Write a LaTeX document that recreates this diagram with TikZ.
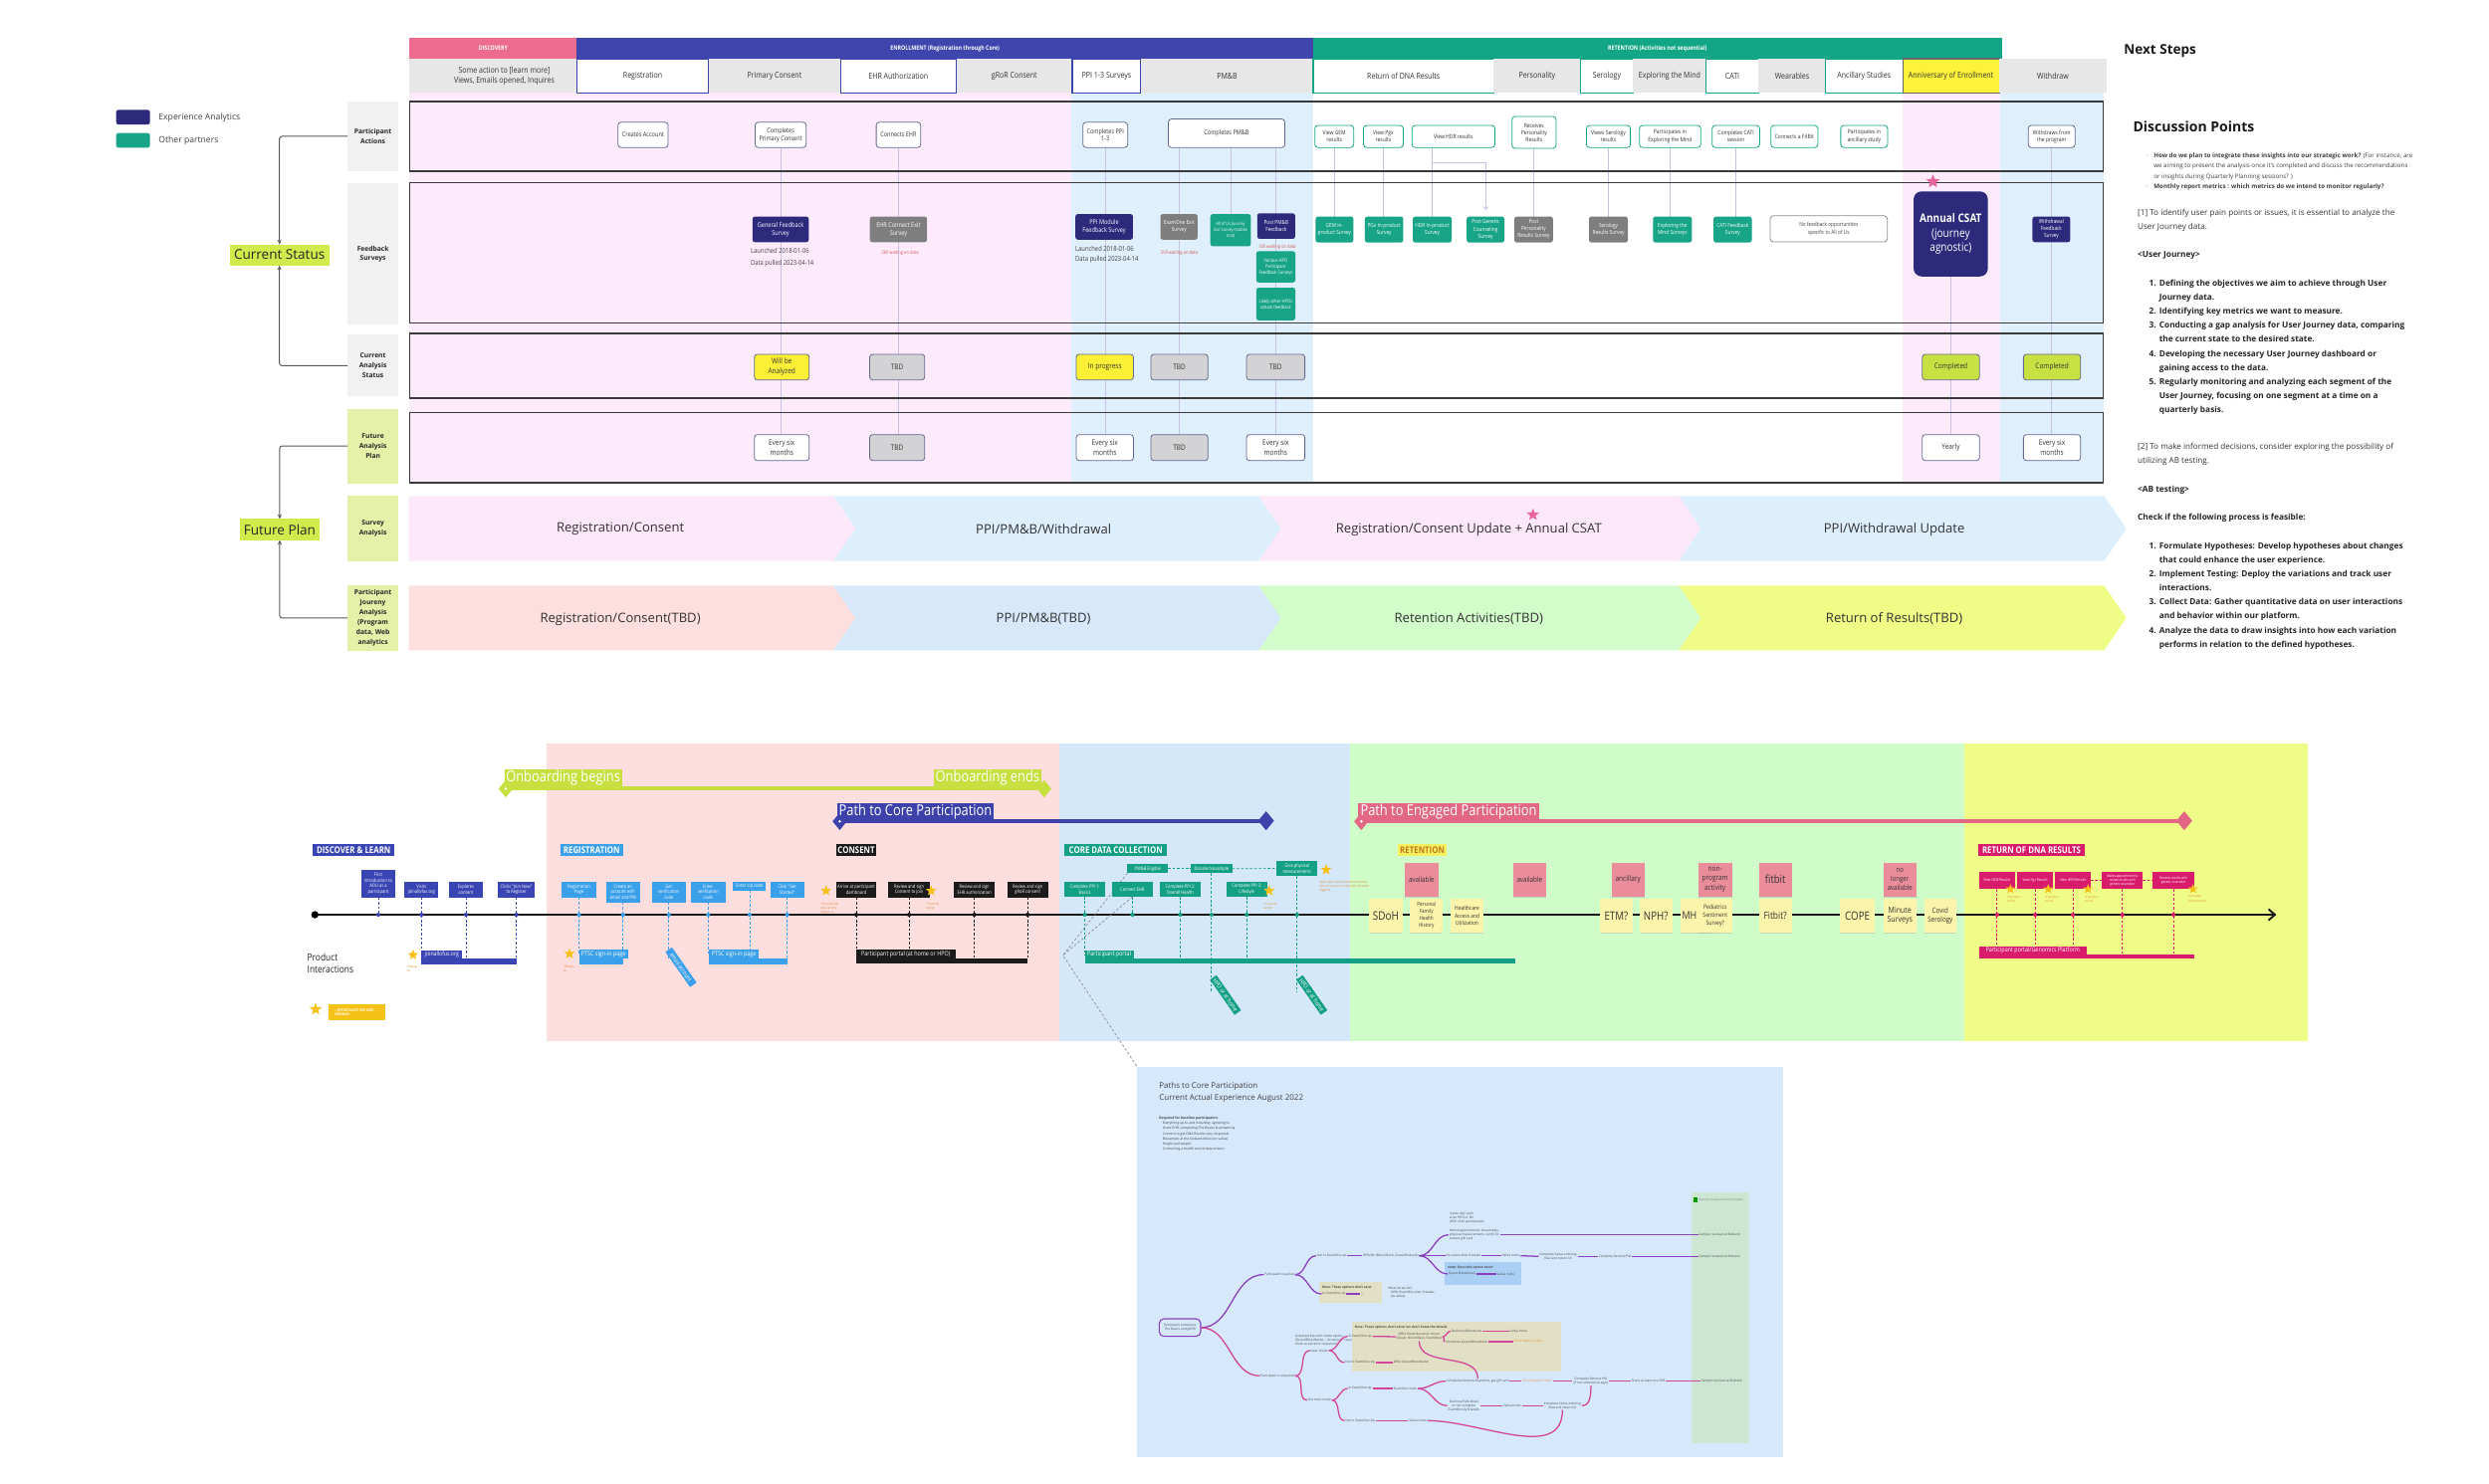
\documentclass[tikz,border=0pt]{standalone}
\usepackage{fontspec}
\setmainfont{Open Sans}
\newfontfamily\cond{Open Sans}[FakeStretch=0.85]
\usetikzlibrary{arrows.meta,shapes.geometric,calc,shadows}
\definecolor{discPink}{HTML}{EC6B8E}
\definecolor{enrBlue}{HTML}{3E46AE}
\definecolor{retGreen}{HTML}{12A586}
\definecolor{cNavy}{HTML}{2D2A7C}
\definecolor{cTeal}{HTML}{17A487}
\definecolor{grayBox}{HTML}{7E7E7E}
\definecolor{cellGray}{HTML}{E7E7E7}
\definecolor{shPink}{HTML}{FDEBFB}
\definecolor{shBlue}{HTML}{DFEFFB}
\definecolor{lblGray}{HTML}{F1F1F1}
\definecolor{lblLime}{HTML}{E5F0A8}
\definecolor{limeHL}{HTML}{D2EA4C}
\definecolor{rowDark}{HTML}{3A3A3A}
\definecolor{vline}{HTML}{C8C2E2}
\definecolor{stYellow}{HTML}{FBF036}
\definecolor{stGray}{HTML}{D3D3D5}
\definecolor{stLime}{HTML}{C8E142}
\definecolor{stEdge}{HTML}{62688F}
\definecolor{waitRed}{HTML}{D9534F}
\definecolor{annYel}{HTML}{FFF23A}
\definecolor{chPink}{HTML}{FDE8FA}
\definecolor{chBlue}{HTML}{DDEEFC}
\definecolor{jPink}{HTML}{FDDFE0}
\definecolor{jBlue}{HTML}{D6E8FA}
\definecolor{jGreen}{HTML}{D2FCCA}
\definecolor{jYellow}{HTML}{EFFD86}
\definecolor{starPink}{HTML}{E8669C}
\definecolor{pnPink}{HTML}{FDDEDF}
\definecolor{pnBlue}{HTML}{D4E8FA}
\definecolor{pnGreen}{HTML}{D0FCC9}
\definecolor{pnYellow}{HTML}{EFFD88}
\definecolor{onbLime}{HTML}{C8DF40}
\definecolor{coreNavy}{HTML}{3C42AA}
\definecolor{engPink}{HTML}{E16784}
\definecolor{discNavy}{HTML}{3A45B4}
\definecolor{regBlue}{HTML}{3BA0EA}
\definecolor{consBlack}{HTML}{1B1B1B}
\definecolor{coreGreen}{HTML}{14A085}
\definecolor{retYel}{HTML}{F6F15E}
\definecolor{retTxt}{HTML}{C2761E}
\definecolor{dnaMag}{HTML}{D81B6B}
\definecolor{stickY}{HTML}{FCF4AA}
\definecolor{stickP}{HTML}{EB8C9B}
\definecolor{cGold}{HTML}{F6C21A}
\definecolor{noteOr}{HTML}{E0913A}
\definecolor{mmBlue}{HTML}{D6E8FB}
\definecolor{mmGreen}{HTML}{CCE6D3}
\definecolor{mmTan}{HTML}{E2E0C4}
\definecolor{mmNote}{HTML}{A9CFF5}
\definecolor{mmPurple}{HTML}{8A3FC0}
\definecolor{mmMag}{HTML}{D3449A}
\pgfdeclarelayer{bg}
\pgfdeclarelayer{lines}
\pgfsetlayers{bg,lines,main}
\newcommand\fsz[2]{\fontsize{#1}{#2}\selectfont}
\newcommand\rbox[7]{%
  \pgfmathsetmacro\myW{#4-#2}%
  \pgfmathsetmacro\myH{#5-#3}%
  \node[#6,minimum width=\myW pt,minimum height=\myH pt] (#1) at ({(#2+#4)/2},{(#3+#5)/2}) {#7};}
\tikzset{
  every node/.style={inner sep=0pt,outer sep=0pt},
  tb/.style={text=white,font=\cond\bfseries\fsz{3.9}{4.5}},
  hc/.style={align=center,font=\cond\fsz{5.2}{6},text=black!80},
  hcg/.style={hc,fill=cellGray},
  hcw/.style={hc,fill=white,draw=#1,line width=0.7pt},
  rlbl/.style={align=center,font=\bfseries\fsz{4.2}{6.2},text=black!85,fill=#1},
  rowb/.style={draw=rowDark,line width=1pt},
  pab/.style={draw=#1,fill=white,rounded corners=2pt,line width=0.5pt,align=center,font=\cond\fsz{4.1}{4.9},text=black!80},
  pas/.style={pab=#1,font=\cond\fsz{3.7}{4.5}},
  fbx/.style={fill=#1,rounded corners=1.5pt,align=center,text=white,font=\cond\fsz{4.1}{5.1}},
  fbs/.style={fbx=#1,font=\cond\fsz{3.5}{4.4}},
  ntxt/.style={anchor=west,font=\cond\fsz{4.3}{5},text=black!75},
  wtxt/.style={font=\cond\fsz{3}{3.5},text=waitRed},
  stb/.style={fill=#1,draw=stEdge,line width=0.5pt,rounded corners=1.8pt,align=center,font=\cond\fsz{4.8}{6.2},text=black!80},
  vl/.style={draw=vline,line width=0.45pt},
  lconn/.style={draw=black!65,line width=0.6pt,rounded corners=1.5pt,-{Stealth[length=3pt,width=2.6pt]}},
  hl/.style={fill=limeHL,font=\fsz{8.5}{10},text=black!85},
  chtxt/.style={font=\fsz{8.2}{9},text=black!80},
  dsm/.style={anchor=base west,font=\fsz{3.9}{4.6},text=black!75},
  dmd/.style={anchor=base west,font=\fsz{5.1}{6},text=black!80},
  dbd/.style={anchor=base west,font=\bfseries\fsz{5.2}{6},text=black!85},
  secl/.style={fill=#1,text=white,font=\cond\bfseries\fsz{5.8}{6.5}},
  tbx/.style={fill=#1,text=white,align=center,font=\cond\fsz{3}{3.5}},
  trk/.style={fill=#1,text=white,font=\cond\fsz{9.5}{10}},
  plbl/.style={fill=#1,text=white,font=\cond\fsz{4}{5}},
  vd/.style={draw=#1,line width=0.45pt,dash pattern=on 1.6pt off 1.2pt},
  stk/.style={fill=#1,align=center,text=black!80,drop shadow={shadow xshift=0pt,shadow yshift=-0.8pt,opacity=0.25}},
  gstar/.style={star,star points=5,star point ratio=2.3,fill=cGold,minimum size=#1,inner sep=0pt},
  onote/.style={anchor=north west,align=left,text=noteOr,font=\cond\fsz{2.1}{2.6}},
  mm/.style={font=\fsz{2}{2.5},text=black!70,align=center,inner sep=0.6pt},
  mmP/.style={draw=mmPurple,line width=0.8pt},
  mmM/.style={draw=mmMag,line width=0.8pt},
  rot/.style={rotate=-55,fill=#1,text=white,font=\cond\fsz{3.8}{4.5},minimum width=27pt,minimum height=5pt},
  dia/.style={diamond,fill=#1,minimum width=9pt,minimum height=11pt,inner sep=0pt},
}
\begin{document}
\begin{tikzpicture}[x=1pt,y=-1pt]
\useasboundingbox (0,0) rectangle (1568,935);
\begin{pgfonlayer}{bg}
\fill[white] (0,0) rectangle (1568,935);
\fill[shPink] (258,58.5) rectangle (675,304.5);
\fill[shBlue] (675,58.5) rectangle (827.3,304.5);
\fill[shPink] (1198.6,58.5) rectangle (1260,304.5);
\fill[shBlue] (1260,58.5) rectangle (1325,304.5);
\fill[pnPink] (344.4,468.3) rectangle (667.2,656);
\fill[pnBlue] (667.2,468.3) rectangle (850.4,656);
\fill[pnGreen] (850.4,468.3) rectangle (1237.2,656);
\fill[pnYellow] (1237.2,468.3) rectangle (1453.6,656);
\end{pgfonlayer}

% ---------------- header ----------------
\rbox{hDisc}{258}{24}{363.4}{37}{tb,fill=discPink}{DISCOVERY}
\rbox{hEnr}{363.4}{24}{827.3}{37}{tb,fill=enrBlue}{ENROLLMENT (Registration through Core)}
\rbox{hRet}{827.3}{24}{1261}{37}{tb,fill=retGreen}{RETENTION (Activities not sequential)}
\rbox{c0}{258}{37}{363.4}{58.5}{hcg}{\hspace*{14pt}Some action to [learn more]\\\hspace*{14pt}Views, Emails opened, Inquires}
\rbox{c1}{363.4}{37}{446.4}{58.5}{hcw=enrBlue}{Registration}
\rbox{c2}{446.4}{37}{529.4}{58.5}{hcg}{Primary Consent}
\rbox{c3}{529.4}{37}{602.5}{58.5}{hcw=enrBlue}{EHR Authorization}
\rbox{c4}{602.5}{37}{675.5}{58.5}{hcg}{gRoR Consent}
\rbox{c5}{675.5}{37}{718.7}{58.5}{hcw=enrBlue}{PPI 1-3 Surveys}
\rbox{c6}{718.7}{37}{827.3}{58.5}{hcg}{PM\&B}
\rbox{c7}{827.3}{37}{941}{58.5}{hcw=retGreen}{Return of DNA Results}
\rbox{c8}{941}{37}{995.7}{58.5}{hcg}{Personality}
\rbox{c9}{995.7}{37}{1028.9}{58.5}{hcw=retGreen}{Serology}
\rbox{c10}{1028.9}{37}{1074.7}{58.5}{hcg}{Exploring the Mind}
\rbox{c11}{1074.7}{37}{1107.9}{58.5}{hcw=retGreen}{CATI}
\rbox{c12}{1107.9}{37}{1150}{58.5}{hcg}{Wearables}
\rbox{c13}{1150}{37}{1198.6}{58.5}{hcw=retGreen}{Ancillary Studies}
\rbox{c14}{1198.6}{37}{1259.5}{58.5}{hcw=black!60,fill=annYel}{Anniversary of Enrollment}
\rbox{c15}{1259.5}{37}{1327}{58.5}{hcg}{Withdraw}

% ---------------- legend & left labels ----------------
\rbox{lgN}{73.2}{69.2}{94.5}{78.5}{fill=cNavy,rounded corners=1.5pt}{}
\node[anchor=west,font=\fsz{5.4}{6},text=black!75] (lgNt) at (100,73.9) {Experience Analytics};
\rbox{lgG}{73.2}{83.8}{94.5}{93.1}{fill=cTeal,rounded corners=1.5pt}{}
\node[anchor=west,font=\fsz{5.4}{6},text=black!75] (lgGt) at (100,88.3) {Other partners};

\rbox{lPA}{219}{63.8}{250.9}{108}{rlbl=lblGray}{Participant\\Actions}
\rbox{lFS}{219}{115.6}{250.9}{204.6}{rlbl=lblGray}{Feedback\\Surveys}
\rbox{lCA}{219}{210.9}{250.9}{249.9}{rlbl=lblGray}{Current\\Analysis\\Status}
\rbox{lFA}{219}{257.6}{250.9}{304.5}{rlbl=lblLime}{Future\\Analysis\\Plan}
\rbox{lSA}{219}{312.6}{250.9}{353.7}{rlbl=lblLime}{Survey\\Analysis}
\rbox{lPJ}{219}{368.8}{250.9}{410}{rlbl=lblLime}{Participant\\Joureny\\Analysis\\(Program\\data, Web\\analytics}

\rbox{cs}{144.7}{154}{207.4}{167.2}{hl}{Current Status}
\rbox{fp}{151.3}{327}{201.1}{340.3}{hl}{Future Plan}
\draw[lconn] (lPA.west) -| (cs.north);
\draw[lconn] (lCA.west) -| (cs.south);
\draw[lconn] (lFA.west) -| (fp.north);
\draw[lconn] (lPJ.west) -| (fp.south);

% ---------------- row frames ----------------
\draw[rowb] (258,64) rectangle (1325,107.7);
\draw[rowb] (258,115) rectangle (1325,203.5);
\draw[rowb] (258,210) rectangle (1325,251);
\draw[rowb] (258,260) rectangle (1325,304);

% ---------------- participant actions ----------------
\rbox{pa1}{389.3}{77}{420.9}{93}{pab=stEdge}{Creates Account}
\rbox{pa2}{475.7}{77}{507.9}{93}{pab=stEdge}{Completes\\Primary Consent}
\rbox{pa3}{552}{77}{580}{93}{pab=stEdge}{Connects EHR}
\rbox{pa4}{682.2}{77}{710.4}{93}{pab=stEdge}{Completes PPI\\1-3}
\rbox{pa5}{736}{75}{809.4}{93}{pab=stEdge}{Completes PM\&B}
\rbox{pa6}{828.3}{79}{852.8}{93}{pas=retGreen}{View GEM\\results}
\rbox{pa7}{859}{79}{884}{93}{pas=retGreen}{View Pgx\\results}
\rbox{pa8}{889.5}{79}{941.7}{93}{pas=retGreen}{View HDR results}
\rbox{pa9}{952.5}{73.4}{980.3}{93.5}{pas=retGreen}{Receives\\Personality\\Results}
\rbox{pa10}{999.4}{79}{1027.1}{93}{pas=retGreen}{Views Serology\\results}
\rbox{pa11}{1032.8}{79}{1071.4}{93}{pas=retGreen}{Participates in\\Exploring the Mind}
\rbox{pa12}{1078.6}{79}{1108.5}{93}{pas=retGreen}{Completes CATI\\session}
\rbox{pa13}{1115.6}{79}{1145.2}{93}{pas=retGreen}{Connects a FitBit}
\rbox{pa14}{1159.6}{79}{1189.1}{93}{pas=retGreen}{Participates in\\ancillary study}
\rbox{pa15}{1277.7}{79}{1307.2}{93}{pas=stEdge}{Withdraws from\\the program}

% ---------------- feedback surveys ----------------
\rbox{fb1}{474}{136.5}{509.5}{152.6}{fbx=cNavy}{General Feedback\\Survey}
\rbox{fb2}{548}{136.5}{584}{152.6}{fbx=grayBox}{EHR Connect Exit\\Survey}
\rbox{fb3}{677.5}{134.9}{713.7}{151}{fbx=cNavy}{PPI Module\\Feedback Survey}
\rbox{fb4}{731}{134.9}{754.5}{151}{fbs=grayBox}{ExamOne Exit\\Survey}
\rbox{fb5}{762.5}{134.9}{788}{155.2}{fbs=cTeal,font=\cond\fsz{2.8}{3.6}}{All of Us Journey\\Exit Survey (mobile\\Unit)}
\rbox{fb6}{792}{134.4}{815.9}{150.5}{fbs=cNavy}{Post PM\&B\\Feedback}
\rbox{fb7}{791.4}{158.3}{816}{178}{fbs=cTeal,font=\cond\fsz{3}{3.9}}{Various HPO\\Participant\\Feedback Surveys}
\rbox{fb8}{791.4}{181.3}{816}{201.8}{fbs=cTeal,font=\cond\fsz{3}{3.9}}{Likely other HPOs\\obtain feedback}
\rbox{fb9}{828.8}{136.5}{852.6}{152.8}{fbs=cTeal}{GEM In-\\product Survey}
\rbox{fb10}{859.8}{136.5}{884}{152.8}{fbs=cTeal}{PGx In-product\\Survey}
\rbox{fb11}{890}{136.5}{914.5}{152.8}{fbs=cTeal}{HDR In-product\\Survey}
\rbox{fb12}{924}{136.5}{947.7}{152.8}{fbs=cTeal}{Post Genetic\\Counseling\\Survey}
\rbox{fb13}{954}{136.5}{978.3}{152.8}{fbs=grayBox}{Post\\Personality\\Results Survey}
\rbox{fb14}{1001}{136.5}{1025.5}{152.8}{fbs=grayBox}{Serology\\Results Survey}
\rbox{fb15}{1041.3}{136.5}{1065.8}{152.8}{fbs=cTeal}{Exploring the\\Mind Surveys}
\rbox{fb16}{1079.5}{136.5}{1103.6}{152.8}{fbs=cTeal}{CATI Feedback\\Survey}
\rbox{fb17}{1115.1}{136}{1189}{152.4}{fill=white,draw=black!45,line width=0.5pt,rounded corners=2pt,align=center,font=\cond\fsz{3.5}{4.6},text=black!75}{No feedback opportunities\\specific to All of Us}
\rbox{fb18}{1205.5}{120.6}{1252.3}{174.2}{fill=cNavy,rounded corners=5pt,align=center,text=white,font=\cond\fsz{7.4}{9.2}}{{\bfseries Annual CSAT}\\(journey\\agnostic)}
\rbox{fb19}{1280.4}{136.5}{1304.2}{152.6}{fbs=cNavy}{Withdrawal\\Feedback\\Survey}
\node[star,star points=5,star point ratio=2.3,fill=starPink,minimum size=9pt] (pst1) at (1217.7,114.4) {};

\node[ntxt] (tn1) at (473,157.9) {Launched 2018-01-06};
\node[ntxt] (tn2) at (473,165.8) {Data pulled 2023-04-14};
\node[wtxt] (tn3) at (567,159.3) {Still waiting on data};
\node[ntxt] (tn4) at (677.5,156.8) {Launched 2018-01-06};
\node[ntxt] (tn5) at (677.5,163.3) {Data pulled 2023-04-14};
\node[wtxt] (tn6) at (743,159.3) {Still waiting on data};
\node[wtxt] (tn7) at (804.7,155.4) {Still waiting on data};

% ---------------- status rows ----------------
\rbox{s1}{475.2}{223.3}{509.8}{239.4}{stb=stYellow}{Will be\\Analyzed}
\rbox{s2}{547.9}{223.3}{582.5}{239.4}{stb=stGray}{TBD}
\rbox{s3}{678}{223.3}{714}{239.4}{stb=stYellow}{In progress}
\rbox{s4}{725}{223.3}{761}{239.4}{stb=stGray}{TBD}
\rbox{s5}{785.3}{223.3}{822}{239.4}{stb=stGray}{TBD}
\rbox{s6}{1211}{223.3}{1247}{239.4}{stb=stLime}{Completed}
\rbox{s7}{1274.7}{223.3}{1310.7}{239.4}{stb=stLime}{Completed}
\rbox{f1}{475.2}{273.9}{509.8}{290.2}{stb=white}{Every six\\months}
\rbox{f2}{547.9}{273.9}{582.5}{290.2}{stb=stGray}{TBD}
\rbox{f3}{678}{273.9}{714}{290.2}{stb=white}{Every six\\months}
\rbox{f4}{725}{273.9}{761}{290.2}{stb=stGray}{TBD}
\rbox{f5}{785.3}{273.9}{822}{290.2}{stb=white}{Every six\\months}
\rbox{f6}{1211}{273.9}{1247}{290.2}{stb=white}{Yearly}
\rbox{f7}{1274.7}{273.9}{1310.7}{290.2}{stb=white}{Every six\\months}

\coordinate (hdrY) at (0,102.5);
\begin{pgfonlayer}{lines}
\draw[vl] (pa2.south) -- (pa2.south |- f1.north);
\draw[vl] (pa3.south) -- (pa3.south |- f2.north);
\draw[vl] (pa4.south) -- (pa4.south |- f3.north);
\draw[vl] (pa5.south -| f4.north) -- (f4.north);
\draw[vl] (pa5.south -| fb5.north) -- (fb5.north);
\draw[vl] (pa5.south -| f5.north) -- (f5.north);
\draw[vl] (pa6.south) -- (pa6.south |- fb9.north);
\draw[vl] (pa7.south) -- (pa7.south |- fb10.north);
\draw[vl] (pa8.south -| fb11.north) -- (fb11.north);
\draw[vl,-{Straight Barb[length=2pt,width=3pt]}] (fb11.north |- hdrY) -| ($(fb12.north)+(0,-4)$);
\draw[vl] (pa9.south) -- (pa9.south |- fb13.north);
\draw[vl] (pa10.south) -- (pa10.south |- fb14.north);
\draw[vl] (pa11.south) -- (pa11.south |- fb15.north);
\draw[vl] (pa12.south) -- (pa12.south |- fb16.north);
\draw[vl] (fb18.south) -- (fb18.south |- f6.north);
\draw[vl] (pa15.south) -- (pa15.south |- f7.north);
\end{pgfonlayer}

% ---------------- chevrons ----------------
\fill[chPink] (257.5,312.5) -- (525,312.5) -- (539,333) -- (525,353.5) -- (257.5,353.5) -- cycle;
\fill[chBlue] (525,312.5) -- (793,312.5) -- (807,333) -- (793,353.5) -- (525,353.5) -- (539,333) -- cycle;
\fill[chPink] (793,312.5) -- (1057.6,312.5) -- (1071.6,333) -- (1057.6,353.5) -- (793,353.5) -- (807,333) -- cycle;
\fill[chBlue] (1057.6,312.5) -- (1325.5,312.5) -- (1339.5,333) -- (1325.5,353.5) -- (1057.6,353.5) -- (1071.6,333) -- cycle;
\node[chtxt] (sa1) at (390.8,333.5) {Registration/Consent};
\node[chtxt] (sa2) at (657.4,333.5) {PPI/PM\&B/Withdrawal};
\node[chtxt] (sa3) at (925.3,333.5) {Registration/Consent Update + Annual CSAT};
\node[chtxt] (sa4) at (1193.3,333.5) {PPI/Withdrawal Update};
\node[star,star points=5,star point ratio=2.3,fill=starPink,minimum size=8pt] (pst2) at (965.7,324.4) {};
\fill[jPink] (257.5,369) -- (525,369) -- (539,389.4) -- (525,409.8) -- (257.5,409.8) -- cycle;
\fill[jBlue] (525,369) -- (793,369) -- (807,389.4) -- (793,409.8) -- (525,409.8) -- (539,389.4) -- cycle;
\fill[jGreen] (793,369) -- (1057.6,369) -- (1071.6,389.4) -- (1057.6,409.8) -- (793,409.8) -- (807,389.4) -- cycle;
\fill[jYellow] (1057.6,369) -- (1325.5,369) -- (1339.5,389.4) -- (1325.5,409.8) -- (1057.6,409.8) -- (1071.6,389.4) -- cycle;
\node[chtxt] (pj1) at (390.8,390) {Registration/Consent(TBD)};
\node[chtxt] (pj2) at (657.4,390) {PPI/PM\&B(TBD)};
\node[chtxt] (pj3) at (925.3,390) {Retention Activities(TBD)};
\node[chtxt] (pj4) at (1193.3,390) {Return of Results(TBD)};

% ---------------- next steps / discussion ----------------
\node[anchor=base west,font=\bfseries\fsz{8.5}{10},text=black!90] (ns) at (1338,34.1) {Next Steps};
\node[anchor=base west,font=\bfseries\fsz{8.8}{10},text=black!90] (dp) at (1343.8,82.8) {Discussion Points};
\node[dsm] (b1d) at (1352,99.1) {·};
\node[dsm] (b1) at (1356.8,99.1) {\textbf{How do we plan to integrate these insights into our strategic work?} (For instance, are};
\node[dsm] (b2) at (1356.8,105.7) {we aiming to present the analysis once it's completed and discuss the recommendations};
\node[dsm] (b3) at (1356.8,112.4) {or insights during Quarterly Planning sessions? )};
\node[dsm] (b4d) at (1352,119.0) {·};
\node[dsm] (b4) at (1356.8,119.0) {\textbf{Monthly report metrics : which metrics do we intend to monitor regularly?}};
\node[dmd] (p1a) at (1346.7,135.8) {[1] To identify user pain points or issues, it is essential to analyze the};
\node[dmd] (p1b) at (1346.7,144.5) {User Journey data.};
\node[dbd] (uj) at (1346.7,162.2) {<User Journey>};
\node[dbd,anchor=base east] (u1n) at (1358.3,180.2) {1.};
\node[dbd] (u1a) at (1360.3,180.2) {Defining the objectives we aim to achieve through User};
\node[dbd] (u1b) at (1360.3,188.9) {Journey data.};
\node[dbd,anchor=base east] (u2n) at (1358.3,197.9) {2.};
\node[dbd] (u2a) at (1360.3,197.9) {Identifying key metrics we want to measure.};
\node[dbd,anchor=base east] (u3n) at (1358.3,206.8) {3.};
\node[dbd] (u3a) at (1360.3,206.8) {Conducting a gap analysis for User Journey data, comparing};
\node[dbd] (u3b) at (1360.3,215.5) {the current state to the desired state.};
\node[dbd,anchor=base east] (u4n) at (1358.3,224.7) {4.};
\node[dbd] (u4a) at (1360.3,224.7) {Developing the necessary User Journey dashboard or};
\node[dbd] (u4b) at (1360.3,233.4) {gaining access to the data.};
\node[dbd,anchor=base east] (u5n) at (1358.3,242.4) {5.};
\node[dbd] (u5a) at (1360.3,242.4) {Regularly monitoring and analyzing each segment of the};
\node[dbd] (u5b) at (1360.3,251.1) {User Journey, focusing on one segment at a time on a};
\node[dbd] (u5c) at (1360.3,260.1) {quarterly basis.};
\node[dmd] (p2a) at (1346.7,283.3) {[2] To make informed decisions, consider exploring the possibility of};
\node[dmd] (p2b) at (1346.7,292.2) {utilizing AB testing.};
\node[dbd] (ab) at (1346.7,310.4) {<AB testing>};
\node[dbd] (chk) at (1346.7,327.8) {Check if the following process is feasible:};
\node[dbd,anchor=base east] (a1n) at (1358.3,345.9) {1.};
\node[dbd] (a1a) at (1360.3,345.9) {Formulate Hypotheses: Develop hypotheses about changes};
\node[dbd] (a1b) at (1360.3,354.5) {that could enhance the user experience.};
\node[dbd,anchor=base east] (a2n) at (1358.3,363.5) {2.};
\node[dbd] (a2a) at (1360.3,363.5) {Implement Testing: Deploy the variations and track user};
\node[dbd] (a2b) at (1360.3,372.2) {interactions.};
\node[dbd,anchor=base east] (a3n) at (1358.3,381.2) {3.};
\node[dbd] (a3a) at (1360.3,381.2) {Collect Data: Gather quantitative data on user interactions};
\node[dbd] (a3b) at (1360.3,390.1) {and behavior within our platform.};
\node[dbd,anchor=base east] (a4n) at (1358.3,399.1) {4.};
\node[dbd] (a4a) at (1360.3,399.1) {Analyze the data to draw insights into how each variation};
\node[dbd] (a4b) at (1360.3,408.0) {performs in relation to the defined hypotheses.};

% ---------------- journey timeline ----------------
\coordinate (axL) at (198.4,576.4);
\coordinate (axR) at (1434,576.4);
\begin{pgfonlayer}{lines}
\draw[line width=1.3pt,black!90,-{Straight Barb[length=4pt,width=7pt,line width=1.2pt]}] (axL) -- (axR);
\draw[onbLime,line width=2.6pt] (318.6,496.5) -- (657.8,496.5);
\draw[coreNavy,line width=2.6pt] (529,517.2) -- (797.6,517.2);
\draw[engPink,line width=2.6pt] (857.6,517.2) -- (1376,517.2);
\end{pgfonlayer}
\fill[black] (axL) circle (2.3pt);

% tracks
\node[dia=onbLime] (obS) at (318.6,497) {};
\fill[white] (obS.center) circle (0.9pt);
\node[dia=onbLime] (obE) at (657.8,497) {};
\rbox{obL1}{317.8}{485}{391.7}{495.5}{trk=onbLime}{Onboarding begins}
\rbox{obL2}{588.2}{485}{656}{495.5}{trk=onbLime}{Onboarding ends}
\node[dia=coreNavy] (pcS) at (529,517.6) {};
\fill[white] (pcS.center) circle (0.9pt);
\node[dia=coreNavy,minimum width=10pt,minimum height=12pt] (pcE) at (797.6,517.2) {};
\rbox{pcL}{527.4}{506}{626}{516.4}{trk=coreNavy}{Path to Core Participation}
\node[dia=engPink] (peS) at (857.6,517.6) {};
\fill[white] (peS.center) circle (0.9pt);
\node[dia=engPink,minimum width=10pt,minimum height=12pt] (peE) at (1376,517.2) {};
\rbox{peL}{855.8}{506}{969.4}{516.4}{trk=engPink}{Path to Engaged Participation}

% section labels
\rbox{slD}{197.2}{532}{248.4}{539.4}{secl=discNavy}{DISCOVER \& LEARN}
\rbox{slR}{353}{532}{392.4}{539.4}{secl=regBlue}{REGISTRATION}
\rbox{slC}{526.8}{532}{552}{539.4}{secl=consBlack}{CONSENT}
\rbox{slK}{670.6}{532}{735.2}{539.4}{secl=coreGreen}{CORE DATA COLLECTION}
\rbox{slT}{880.8}{532}{911.2}{539.4}{secl=retYel,text=retTxt}{RETENTION}
\rbox{slG}{1246}{532}{1313.6}{539.4}{secl=dnaMag}{RETURN OF DNA RESULTS}

% discover
\rbox{d1}{227.6}{548.4}{249}{565.5}{tbx=discNavy}{First\\introduction to\\AOU as a\\participant}
\rbox{d2}{254.8}{555.5}{276.2}{565.5}{tbx=discNavy}{Visits\\joinallofus.org}
\rbox{d3}{282.6}{555.5}{304.4}{565.5}{tbx=discNavy}{Explores\\content}
\rbox{d4}{313.6}{555.5}{337}{565.5}{tbx=discNavy}{Clicks "Join Now"\\to Register}
% registration
\rbox{r1}{354}{555.5}{375.4}{565.5}{tbx=regBlue}{Registration\\Page}
\rbox{r2}{381.8}{555.5}{403.2}{568.6}{tbx=regBlue}{Create an\\account with\\email and PW}
\rbox{r3}{410.6}{555.5}{432}{568.6}{tbx=regBlue}{Get\\verification\\code}
\rbox{r4}{435.2}{555.5}{457}{568.6}{tbx=regBlue}{Enter\\verification\\code}
\rbox{r5}{461.8}{555.5}{482.6}{561.3}{tbx=regBlue}{Enter zip code}
\rbox{r6}{485.2}{555.5}{506.6}{565.5}{tbx=regBlue}{Click "Get\\Started"}
% consent
\rbox{k0a}{526.8}{555.5}{552}{565.5}{tbx=consBlack}{Arrive at participant\\dashboard}
\rbox{k0b}{559.4}{555.5}{586}{565.5}{tbx=consBlack}{Review and sign\\Consent to join}
\rbox{k0c}{601}{555.5}{626.6}{565.5}{tbx=consBlack}{Review and sign\\EHR authorization}
\rbox{k0d}{634.6}{555.5}{660.2}{565.5}{tbx=consBlack}{Review and sign\\gRoR consent}
% core data
\rbox{k1}{670.6}{555.7}{696.2}{565.1}{tbx=coreGreen}{Complete PPI 1:\\Basics}
\rbox{k2}{700.6}{555.7}{726.2}{565.1}{tbx=coreGreen}{Connect EHR}
\rbox{k3}{730.7}{555.7}{756.3}{565.1}{tbx=coreGreen}{Complete PPI 2:\\Overall Health}
\rbox{k4}{772.6}{555.7}{798.2}{565.1}{tbx=coreGreen}{Complete PPI 3:\\Lifestyle}
\rbox{k5}{710.2}{544.6}{735.8}{550.2}{tbx=coreGreen}{PM\&B Eligible}
\rbox{k6}{750.2}{544.6}{776.2}{550.2}{tbx=coreGreen}{Donate biosample}
\rbox{k7}{804.3}{542.5}{829.9}{552}{tbx=coreGreen}{Give physical\\measurements}
% DNA
\rbox{g1}{1246.9}{549.2}{1269.2}{560.3}{tbx=dnaMag,font=\cond\fsz{2.4}{3}}{View GEM Results}
\rbox{g2}{1270.9}{549.2}{1293.3}{560.3}{tbx=dnaMag,font=\cond\fsz{2.4}{3}}{View Pgx Results}
\rbox{g3}{1294.7}{549.2}{1317.1}{560.3}{tbx=dnaMag,font=\cond\fsz{2.4}{3}}{View HDR Results}
\rbox{g4}{1324}{549.2}{1350}{560.3}{tbx=dnaMag,font=\cond\fsz{2.2}{2.7}}{Makes appointment to\\review results with\\genetic counselor}
\rbox{g5}{1356.2}{549.2}{1382.3}{560.3}{tbx=dnaMag,font=\cond\fsz{2.2}{2.7}}{Reviews results with\\genetic counselor}

% product interaction bars
\rbox{jl}{265.6}{599}{291.2}{604.1}{plbl=discNavy,font=\cond\fsz{3.8}{4.5}}{joinallofus.org}
\rbox{jb}{265.6}{604.1}{325.2}{607.5}{fill=discNavy}{}
\rbox{pt1}{364.8}{598.5}{395.6}{604}{plbl=regBlue}{PTSC sign-in page}
\rbox{pt1b}{364.8}{604}{392.4}{608}{fill=regBlue}{}
\node[rot=regBlue] (em) at (429,609.5) {email account};
\rbox{pt2}{446.8}{598.5}{477.8}{604}{plbl=regBlue}{PTSC sign-in page}
\rbox{pt2b}{446.8}{604}{496}{607.5}{fill=regBlue}{}
\rbox{cp}{539.2}{598.5}{602}{603.8}{plbl=consBlack}{Participant portal (at home or HPO)}
\rbox{cpb}{539.2}{603.8}{647.4}{607.3}{fill=consBlack}{}
\rbox{pp}{683.4}{599}{714.1}{604.1}{plbl=coreGreen}{Participant portal}
\rbox{ppb}{683.4}{604.1}{954.4}{607.3}{fill=coreGreen}{}
\node[rot=coreGreen] (epo1) at (772,627) {HPO or at home};
\node[rot=coreGreen] (epo2) at (826.4,627) {HPO or at home};
\rbox{gp}{1246.9}{596.4}{1314.4}{601.7}{plbl=dnaMag}{Participant portal/Genomics Platform}
\rbox{gpb}{1246.9}{601.7}{1382.3}{604.2}{fill=dnaMag}{}

\coordinate (mmA) at (669.6,602);
\begin{pgfonlayer}{lines}
\draw[vd=discNavy] (d1.south) -- (d1.south |- axL);
\draw[vd=discNavy] (d2.south) -- (d2.south |- jl.center);
\draw[vd=discNavy] (d3.south) -- (d3.south |- jb.north);
\draw[vd=discNavy] (d4.south) -- (d4.south |- jb.north);
\draw[vd=regBlue] (r1.south) -- (r1.south |- pt1.center);
\draw[vd=regBlue] (r2.south) -- (r2.south |- pt1b.north);
\draw[vd=regBlue] (r3.south) -- (r3.south |- pt1b.north);
\draw[vd=regBlue] (r4.south) -- (r4.south |- pt2.center);
\draw[vd=regBlue] (r5.south) -- (r5.south |- pt2.center);
\draw[vd=regBlue] (r6.south) -- (r6.south |- pt2b.north);
\draw[vd=consBlack] (k0a.south) -- (k0a.south |- cp.center);
\draw[vd=consBlack] (k0b.south) -- (k0b.south |- cp.center);
\draw[vd=consBlack] (k0c.south) -- (k0c.south |- cpb.north);
\draw[vd=consBlack] (k0d.south) -- (k0d.south |- cpb.north);
\draw[vd=coreGreen] (k1.south) -- (k1.south |- pp.center);
\draw[vd=coreGreen] (k2.south) -- (k2.south |- axL);
\draw[vd=coreGreen] (k3.south) -- (k3.south |- ppb.north);
\draw[vd=coreGreen] (k4.south) -- (k4.south |- ppb.north);
\draw[vd=coreGreen] (k6.south) -- (k6.south |- epo1.north);
\draw[vd=coreGreen] (k7.south) -- (k7.south |- epo2.north);
\draw[vd=coreGreen] (k5.east) -- (k6.west);
\draw[vd=coreGreen] (k6.east) -- (k7.west);
\draw[vd=dnaMag] (g1.south) -- (g1.south |- gp.center);
\draw[vd=dnaMag] (g2.south) -- (g2.south |- gp.center);
\draw[vd=dnaMag] (g3.south) -- (g3.south |- gp.center);
\draw[vd=dnaMag] (g4.south) -- (g4.south |- gpb.north);
\draw[vd=dnaMag] (g5.south) -- (g5.south |- gpb.north);
\draw[vd=dnaMag] (g3.east) -- (g4.west);
\draw[vd=dnaMag] (g4.east) -- (g5.west);
\end{pgfonlayer}
\foreach \n/\c in {d1/discNavy,d2/discNavy,d3/discNavy,d4/discNavy,r1/regBlue,r2/regBlue,r3/regBlue,r4/regBlue,r5/regBlue,r6/regBlue,k0a/consBlack,k0b/consBlack,k0c/consBlack,k0d/consBlack,k1/coreGreen,k2/coreGreen,k3/coreGreen,k4/coreGreen,k6/coreGreen,k7/coreGreen,g1/dnaMag,g2/dnaMag,g3/dnaMag,g4/dnaMag,g5/dnaMag}{
  \fill[\c] (\n.south |- axL) circle (1.3pt);
}

% stars and notes
\node[gstar=7pt] (st1) at (260.2,601.7) {};
\node[onote] (on1) at (256.5,608.5) {*Always\\on};
\node[gstar=7pt] (st2) at (358.8,601) {};
\node[onote] (on2) at (355,608.5) {*Always\\on};
\node[gstar=7pt] (st3) at (520.4,561.3) {};
\node[onote] (on3) at (517.2,568.6) {*Dashboards\\pop-up only\\always on};
\node[gstar=7pt] (st4) at (586.6,561.3) {};
\node[onote] (on4) at (583.4,568.6) {*In-portal\\survey};
\node[gstar=7pt] (st5) at (799.5,561.3) {};
\node[onote] (on5) at (796,568.6) {*In-portal\\survey};
\node[gstar=7pt] (st6) at (835.4,548.1) {};
\node[onote] (on6) at (831.2,555) {*post-appt survey (communications)\\also an in-portal survey (but unknown\\triggers)};
\node[gstar=6.5pt] (st7) at (1266.5,560.3) {};
\node[onote] (on7) at (1264.4,564.3) {In-product\\survey};
\node[gstar=6.5pt] (st8) at (1290.3,560.3) {};
\node[onote] (on8) at (1288.2,564.3) {In-product\\survey};
\node[gstar=6.5pt] (st9) at (1315.4,560.3) {};
\node[onote] (on9) at (1313.3,564.3) {In-product\\survey};
\node[gstar=6.5pt] (st10) at (1381.5,560.3) {};
\node[onote] (on10) at (1378.6,564.3) {post-appt\\survey (email)};

\node[anchor=west,align=left,font=\cond\fsz{6.2}{7.8},text=black!85] (pi) at (193.6,607.1) {Product\\Interactions};
\node[gstar=8pt] (lgS) at (198.8,636) {};
\rbox{lgY}{206.8}{633}{242.6}{642.9}{fill=cGold,text=white,align=left,font=\cond\bfseries\fsz{2.2}{2.8}}{= OPPORTUNITY FOR USER\\FEEDBACK\hspace*{18pt}}

% stickies
\rbox{p1}{885}{543.5}{906}{564.9}{stk=stickP,font=\cond\fsz{4.6}{5.6}}{available}
\rbox{p2}{953.1}{543.5}{974}{564.9}{stk=stickP,font=\cond\fsz{4.6}{5.6}}{available}
\rbox{p3}{1015.2}{543.5}{1036}{564.9}{stk=stickP,font=\cond\fsz{4.8}{5.6}}{ancillary}
\rbox{p4}{1069.9}{543.5}{1091}{564.9}{stk=stickP,font=\cond\fsz{4.8}{5.8}}{non-\\program\\activity}
\rbox{p5}{1108}{543.5}{1128.8}{564.9}{stk=stickP,font=\cond\fsz{7}{8}}{fitbit}
\rbox{p6}{1186.4}{543.5}{1207.3}{564.9}{stk=stickP,font=\cond\fsz{4.5}{5.5}}{no\\longer\\available}
\rbox{y1}{862.6}{566.5}{883.4}{587.5}{stk=stickY,font=\cond\fsz{7.4}{8}}{SDoH}
\rbox{y2}{888.2}{566.5}{909}{587.5}{stk=stickY,font=\cond\fsz{3.4}{4.4}}{Personal\\Family\\Health\\History}
\rbox{y3}{913.8}{566.5}{934.6}{587.5}{stk=stickY,font=\cond\fsz{3.6}{4.8}}{Healthcare\\Access and\\Utilization}
\rbox{y4}{1007.8}{566.5}{1028.6}{587.5}{stk=stickY,font=\cond\fsz{7.2}{8}}{ETM?}
\rbox{y5}{1032.8}{566.5}{1053.6}{587.5}{stk=stickY,font=\cond\fsz{7.2}{8}}{NPH?}
\rbox{y6}{1058.4}{566.5}{1079.2}{587.5}{stk=stickY,font=\cond\fsz{6.6}{8}}{MH\hspace*{9pt}}
\rbox{y7}{1070}{566.5}{1091}{587.5}{stk=stickY,font=\cond\fsz{3.8}{4.9}}{Pediatrics\\Sentiment\\Survey?}
\rbox{y8}{1108}{566.5}{1128.8}{587.5}{stk=stickY,font=\cond\fsz{6.2}{8}}{Fitbit?}
\rbox{y9}{1159}{566.5}{1181.2}{587.5}{stk=stickY,font=\cond\fsz{7.2}{8}}{COPE}
\rbox{y10}{1186.4}{566.5}{1207.3}{587.5}{stk=stickY,font=\cond\fsz{5.2}{6.2}}{Minute\\Surveys}
\rbox{y11}{1212.2}{566.5}{1232.4}{587.5}{stk=stickY,font=\cond\fsz{4.6}{5.8}}{Covid\\Serology}

% ---------------- paths to core participation (mind map) ----------------
\rbox{mmBox}{716.3}{672.1}{1123.6}{918.4}{fill=mmBlue}{}
\begin{pgfonlayer}{lines}
\draw[black!45,line width=0.45pt,dash pattern=on 1.6pt off 1.3pt] (k5.south west) -- (mmA) -- (mmBox.north west);
\draw[black!45,line width=0.45pt,dash pattern=on 1.6pt off 1.3pt] (k2.south) -- (mmA);
\end{pgfonlayer}
\node[anchor=west,font=\fsz{5}{6},text=black!75] (mmT1) at (730.3,684.7) {Paths to Core Participation};
\node[anchor=west,font=\fsz{5}{6},text=black!75] (mmT2) at (730.3,692) {Current Actual Experience August 2022};
\node[anchor=north west,align=left,font=\fsz{2.1}{3.3},text=black!75] (mmReq) at (730.3,703.6) {\textbf{Required for baseline participation:}\\
\ \ · Everything up to and including: agreeing to\\
\ \ \ \ share EHR, completing The Basics \& answering\\
\ \ \ \ Consent to get DNA Results (any response)\\
\ \ · Biosample at the biobank (blood or saliva)\\
\ \ · Height and weight\\
\ \ · Connecting a health record data stream};
\rbox{mmG}{1065.6}{751.2}{1102}{909.5}{fill=mmGreen}{}
\rbox{mmChk}{1066.6}{754.4}{1069.6}{757.6}{fill=green!60!black}{}
\node[anchor=west,font=\fsz{1.8}{2.2},text=black!50] (mmChkT) at (1070.4,756) {Baseline Requirements Complete};
\rbox{mmTan1}{831.2}{808}{870.8}{821}{fill=mmTan}{}
\rbox{mmTan2}{851.5}{832.7}{983.7}{864.5}{fill=mmTan}{}
\rbox{mmNoteB}{910.3}{795.5}{958.4}{809.5}{fill=mmNote}{}
\node[mm,anchor=west,font=\bfseries\fsz{2}{2.5}] (mmTan1t) at (832.4,811.2) {Note: These options don't exist};
\node[mm,anchor=west,font=\bfseries\fsz{2}{2.5}] (mmTan2t) at (853,836.2) {Note: These options don't exist/ we don't know the details};
\node[mm,anchor=west,font=\bfseries\fsz{2}{2.5}] (mmNoteT) at (911.5,798.6) {Note: Does this option exist?};

\rbox{mRoot}{730.3}{831}{756.4}{842.1}{draw=mmPurple,line width=0.7pt,rounded corners=3pt,mm}{Participant completes\\The Basics and gROR}
\node[mm] (mPaired) at (806,803.2) {Participant is paired};
\node[mm] (mUnp) at (804.8,867) {Participant is unpaired};
\node[mm] (mNotEx1) at (839,791.3) {Not in ExamOne zip};
\node[mm] (mInEx1) at (840.4,815.4) {In ExamOne zip};
\node[mm] (mQ1) at (858,815.4) {?};
\node[mm,anchor=west,align=left] (mWhat) at (874,814.6) {What do we do?\\\ - Offer ExamOne after 8 weeks\\\ \ \ (as saliva)};
\node[mm] (mHPO) at (876,791.3) {HPO/DV (Blood Bank, Quest/Biobank)};
\node[mm,anchor=west,align=left] (mSame) at (912.5,767.3) {"same day" path\\at an HPO or DV\\(45\% of all participants)};
\node[mm,anchor=west,align=left] (mAttend) at (912.5,778.1) {Attend appointment: biosamples,\\physical measurements, verify ID,\\receive gift card};
\node[mm] (mS1) at (1083.3,778.1) {Sample received at Biobank};
\node[mm] (mNoAct) at (922,791.3) {No action after 8 weeks};
\node[mm] (mSal1) at (951.8,791.3) {Saliva Invite};
\node[mm] (mFlow1) at (981.6,791.7) {Complete Saliva ordering\\flow and return kit};
\node[mm] (mPM1) at (1017.3,791.7) {Complete Remote PM};
\node[mm] (mS2) at (1083.3,791.7) {Sample received at Biobank};
\node[mm] (mQuest) at (921,802.8) {Quest (Bloodsure)};
\node[mm] (mSalB) at (948.6,802.8) {Saliva invite};
\node[mm,anchor=west,align=left] (mUnpN) at (815.5,844.6) {Unpaired but with onsite option\\(Quest/Bloodbank)... do we even have\\them as paired or unpaired?};
\node[mm] (mNear) at (831.2,851) {Near onsite};
\node[mm] (mNotNear) at (831.2,882.3) {Not near onsite};
\node[mm] (mInEx2) at (856.8,842.1) {In ExamOne zip};
\node[mm] (mOffer) at (894,842.3) {Offer blood donation choice\\(Quest, Blood Bank, ExamOne)};
\node[mm] (mDecl) at (924,838.8) {Declines (Bloodsure)};
\node[mm] (mSal2) at (956.6,838.8) {Saliva Invite};
\node[mm] (mSched) at (924,845.5) {Schedules Quest/Bloodbank};
\node[mm,text=noteOr] (mFill1) at (963,845.5) {Fill all appts in labs?};
\node[mm] (mNotEx2) at (856.8,858.6) {Not in ExamOne zip};
\node[mm] (mOfferQ) at (888.8,858.6) {Offer Quest/Bloodbank};
\node[mm] (mInEx3) at (856.8,875) {In ExamOne zip};
\node[mm] (mExInv) at (885.3,875) {ExamOne Invite};
\node[mm] (mSchedEx) at (931,870.3) {Schedules/Attends ExamOne, get gift card};
\node[mm,text=noteOr] (mFill2) at (968.4,870.3) {Fill all appts in labs?};
\node[mm] (mPM2) at (1002.2,870.3) {Complete Remote PM\\(if not collected at appt)};
\node[mm] (mEHR) at (1038.4,870.3) {Share at least one EHR};
\node[mm] (mS3) at (1084.6,870.3) {Sample received at Biobank};
\node[mm] (mDeclEx) at (922.2,885.8) {Declines/Fails Draw\\or not complete\\ExamOne by 8 weeks};
\node[mm] (mSal3) at (952.6,885.8) {Saliva Invite};
\node[mm] (mFlow3) at (984.3,885.8) {Complete Saliva ordering\\flow and return kit};
\node[mm] (mNotEx3) at (856.8,895.2) {Not in ExamOne zip};
\node[mm] (mSal4) at (893.2,895.2) {Saliva Invite};

\draw[mmP] (mRoot.east) to[out=0,in=180] (mPaired.west);
\draw[mmP] (mPaired.east) to[out=0,in=180] (mNotEx1.west);
\draw[mmP] (mPaired.east) to[out=0,in=180] (mInEx1.west);
\draw[mmP] (mNotEx1.east) -- (mHPO.west);
\draw[mmP] (mHPO.east) to[out=0,in=180] (mAttend.west);
\draw[mmP] (mHPO.east) -- (mNoAct.west);
\draw[mmP] (mHPO.east) to[out=0,in=180] (mQuest.west);
\draw[mmP] (mAttend.east) -- (mS1.west);
\draw[mmP] (mNoAct.east) -- (mSal1.west);
\draw[mmP] (mSal1.east) -- (mFlow1.west);
\draw[mmP] (mFlow1.east) -- (mPM1.west);
\draw[mmP] (mPM1.east) -- (mS2.west);
\draw[mmP] (mInEx1.east) -- (mQ1.west);
\draw[mmP] (mQuest.east) -- (mSalB.west);
\draw[mmM] (mRoot.east) to[out=0,in=180] (mUnp.west);
\draw[mmM] (mUnp.east) to[out=0,in=180] (mNear.west);
\draw[mmM] (mUnp.east) to[out=0,in=180] (mNotNear.west);
\draw[mmM] (mNear.east) to[out=0,in=180] (mInEx2.west);
\draw[mmM] (mNear.east) to[out=0,in=180] (mNotEx2.west);
\draw[mmM] (mInEx2.east) -- (mOffer.west);
\draw[mmM] (mOffer.east) to[out=0,in=180] (mDecl.west);
\draw[mmM] (mOffer.east) to[out=0,in=180] (mSched.west);
\draw[mmM] (mDecl.east) -- (mSal2.west);
\draw[mmM] (mSched.east) -- (mFill1.west);
\draw[mmM] (mNotEx2.east) -- (mOfferQ.west);
\draw[mmM] (mNotNear.east) to[out=0,in=180] (mInEx3.west);
\draw[mmM] (mNotNear.east) to[out=0,in=180] (mNotEx3.west);
\draw[mmM] (mInEx3.east) -- (mExInv.west);
\draw[mmM] (mExInv.east) to[out=0,in=180] (mSchedEx.west);
\draw[mmM] (mExInv.east) to[out=0,in=180] (mDeclEx.west);
\draw[mmM] (mSchedEx.east) -- (mFill2.west);
\draw[mmM] (mFill2.east) -- (mPM2.west);
\draw[mmM] (mPM2.east) -- (mEHR.west);
\draw[mmM] (mEHR.east) -- (mS3.west);
\draw[mmM] (mDeclEx.east) -- (mSal3.west);
\draw[mmM] (mSal3.east) -- (mFlow3.west);
\draw[mmM] (mFlow3.east) to[out=0,in=-90] (mPM2.south);
\draw[mmM] (mNotEx3.east) -- (mSal4.west);
\draw[mmM] (mSal4.east) to[out=0,in=-90] (mFlow3.south);
\draw[mmM] (mOffer.south) to[out=-90,in=90] (mSchedEx.north);
\end{tikzpicture}
\end{document}
